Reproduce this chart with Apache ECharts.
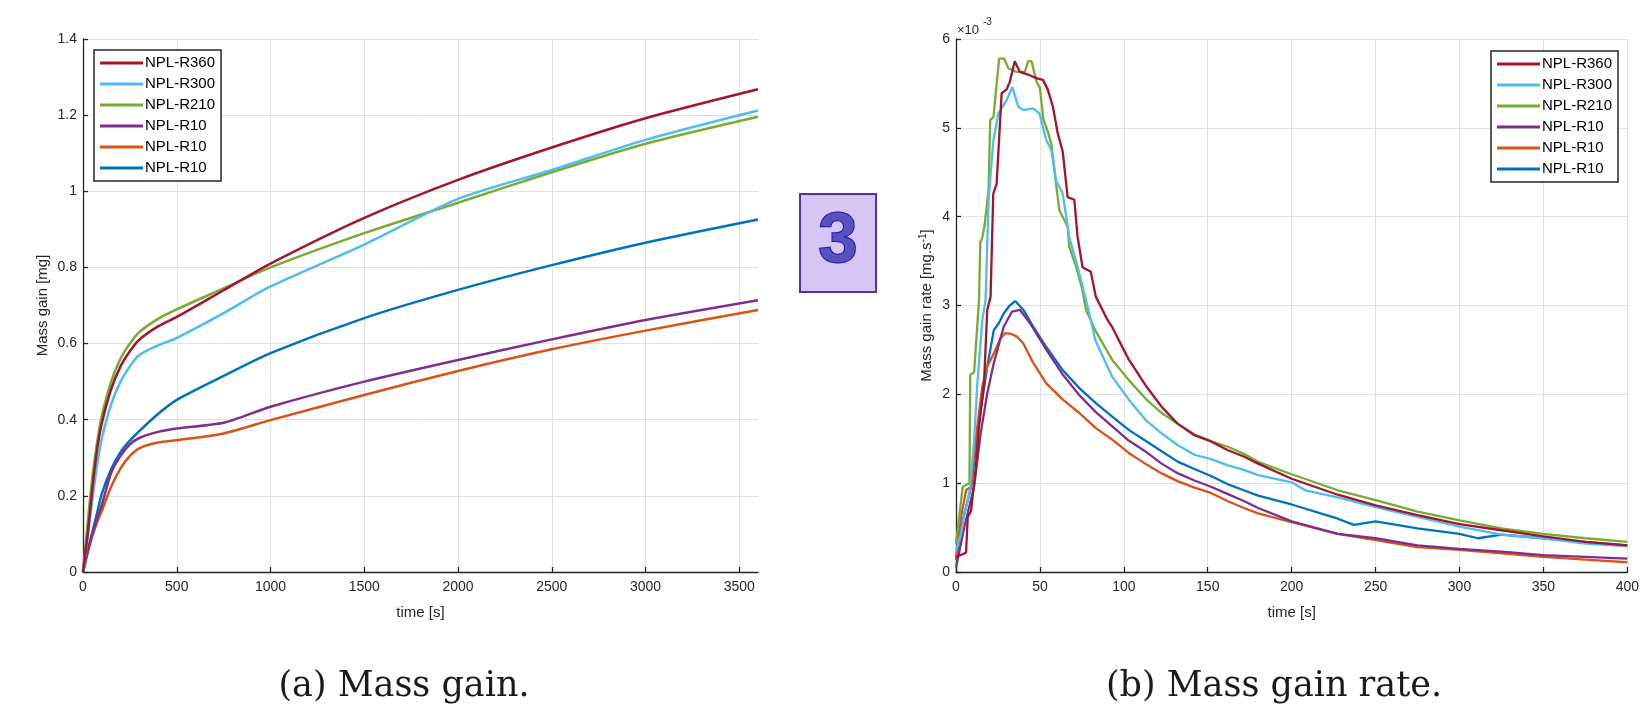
<!DOCTYPE html>
<html>
<head>
<meta charset="utf-8">
<script src="https://cdn.jsdelivr.net/npm/echarts@6/dist/echarts.min.js"></script>
<style>
html,body{margin:0;padding:0;background:#fff;}
#chart{width:1642px;height:708px;}
</style>
</head>
<body>
<div id="chart"></div>
<script>
// ---------- DATA ----------
var seriesNames = ['NPL-R360', 'NPL-R300', 'NPL-R210', 'NPL-R10#1', 'NPL-R10#2', 'NPL-R10#3'];
var legendLabels = ['NPL-R360', 'NPL-R300', 'NPL-R210', 'NPL-R10', 'NPL-R10', 'NPL-R10'];
var seriesColors = ['#A2142F', '#4DBEEE', '#77AC30', '#7E2F8E', '#D95319', '#0072BD'];

// (a) Mass gain [mg] vs time [s]
var gainTime = [0, 25, 50, 75, 100, 150, 200, 250, 300, 400, 500, 750, 1000, 1500, 2000, 2500, 3000, 3600];
var gainR360 = [0, 0.10, 0.22, 0.32, 0.39, 0.48, 0.54, 0.58, 0.61, 0.645, 0.67, 0.74, 0.81, 0.93, 1.03, 1.115, 1.192, 1.268];
var gainR300 = [0, 0.09, 0.19, 0.28, 0.35, 0.44, 0.50, 0.54, 0.57, 0.595, 0.615, 0.68, 0.75, 0.86, 0.98, 1.056, 1.135, 1.212];
var gainR210 = [0, 0.13, 0.25, 0.34, 0.41, 0.50, 0.56, 0.60, 0.63, 0.665, 0.69, 0.745, 0.80, 0.89, 0.97, 1.05, 1.125, 1.196];
var gainR10a = [0, 0.055, 0.10, 0.14, 0.175, 0.26, 0.305, 0.335, 0.352, 0.368, 0.377, 0.392, 0.434, 0.50, 0.557, 0.611, 0.662, 0.714];
var gainR10b = [0, 0.05, 0.095, 0.13, 0.16, 0.224, 0.272, 0.305, 0.325, 0.34, 0.346, 0.364, 0.399, 0.465, 0.528, 0.585, 0.634, 0.688];
var gainR10c = [0, 0.055, 0.105, 0.155, 0.205, 0.27, 0.315, 0.345, 0.37, 0.415, 0.452, 0.515, 0.575, 0.667, 0.741, 0.806, 0.865, 0.926];

// (b) Mass gain rate [1e-3 mg/s] vs time [s]  (pairs [t, rate])
var rateR360 = [[0,0.17],[4,0.2],[6,0.22],[7,0.62],[9,0.69],[11.8,1.18],[13.7,1.64],[16.7,2.12],[18.6,2.95],[20.6,3.1],[22.2,4.26],[24.2,4.37],[27.2,5.39],[30.1,5.43],[32.1,5.52],[35,5.75],[38,5.63],[42.9,5.6],[47.8,5.56],[51.8,5.54],[54.7,5.43],[57.7,5.24],[60.6,4.94],[63.6,4.73],[66.5,4.22],[70.5,4.19],[72.4,3.78],[75.4,3.43],[80.3,3.38],[83.3,3.1],[90.2,2.84],[93,2.76],[97,2.61],[103,2.39],[113,2.1],[122.5,1.86],[132,1.67],[142,1.54],[152,1.47],[162,1.37],[171.5,1.3],[180,1.22],[200,1.05],[227.5,0.87],[250,0.75],[275,0.64],[300,0.54],[325,0.47],[350,0.40],[375,0.34],[400,0.30]];
var rateR300 = [[0,0.24],[3,0.43],[5,0.66],[8,0.88],[10.8,1.48],[12.7,2.12],[15.7,2.84],[17.6,3.06],[19.4,4.19],[22.3,4.86],[25.2,5.16],[30.1,5.31],[33.6,5.46],[37,5.24],[40,5.2],[45.9,5.22],[49.8,5.16],[53.8,4.86],[56.8,4.75],[59.7,4.4],[63.6,4.26],[67.6,3.76],[72.4,3.44],[76.4,3.14],[80.3,2.84],[83,2.61],[93,2.2],[103,1.94],[113,1.71],[122.5,1.56],[132,1.43],[142,1.32],[152,1.27],[162,1.2],[171.5,1.15],[180,1.09],[200,1.01],[208,0.92],[227.5,0.84],[250,0.73],[275,0.62],[300,0.51],[325,0.42],[350,0.38],[375,0.32],[400,0.29]];
var rateR210 = [[0,0.32],[4,0.96],[8,1.0],[8.5,2.22],[10.8,2.25],[13.7,3.06],[14.5,3.72],[15.5,3.75],[17,3.9],[19.4,4.3],[20.4,5.09],[22.3,5.12],[25.7,5.78],[28.7,5.78],[31.2,5.67],[36,5.63],[41,5.63],[43,5.75],[45,5.75],[48,5.52],[50,5.45],[52,5.1],[55,4.94],[57,4.8],[59.6,4.37],[61.6,4.07],[66.5,3.89],[67.5,3.66],[71.5,3.44],[75,3.2],[77.5,2.95],[83,2.72],[93,2.39],[103,2.16],[113,1.95],[122.5,1.79],[132,1.67],[142,1.55],[152,1.47],[162,1.41],[171.5,1.33],[180,1.24],[200,1.1],[227.5,0.92],[250,0.81],[275,0.68],[300,0.58],[325,0.49],[350,0.43],[375,0.38],[400,0.34]];
var rateR10a = [[0,0.05],[5,0.51],[10.8,0.96],[14.7,1.56],[18.6,2.01],[22.5,2.35],[28.4,2.76],[33.3,2.93],[38.2,2.95],[44.1,2.8],[53.9,2.5],[63.7,2.22],[73.5,1.99],[83.3,1.8],[93.1,1.64],[102.9,1.48],[112.7,1.36],[122.5,1.22],[132.3,1.11],[142.1,1.03],[151.9,0.96],[161.7,0.88],[171.5,0.8],[180,0.72],[200,0.57],[227.5,0.43],[250,0.38],[275,0.30],[300,0.26],[325,0.23],[350,0.19],[375,0.17],[400,0.15]];
var rateR10b = [[0,0.13],[3,0.62],[6,0.92],[9,0.96],[12.7,1.64],[15.7,2.09],[18.6,2.31],[22.5,2.46],[26.5,2.63],[29.4,2.69],[33,2.68],[36.3,2.65],[40.2,2.57],[46.1,2.35],[53.9,2.12],[63.7,1.94],[73.5,1.79],[83.3,1.62],[93.1,1.49],[102.9,1.34],[112.7,1.22],[122.5,1.11],[132.3,1.02],[142.1,0.95],[151.9,0.89],[161.7,0.8],[171.5,0.72],[180,0.66],[200,0.56],[227.5,0.43],[250,0.36],[275,0.28],[300,0.25],[325,0.21],[350,0.17],[375,0.14],[400,0.11]];
var rateR10c = [[0,0.15],[4,0.58],[9,0.96],[14.7,1.82],[18.6,2.31],[22.5,2.72],[25.5,2.8],[28.4,2.91],[32,3.0],[35.3,3.05],[40.2,2.95],[46.1,2.76],[53.9,2.53],[63.7,2.27],[73.5,2.07],[83.3,1.9],[93.1,1.75],[102.9,1.6],[112.7,1.48],[122.5,1.36],[132.3,1.24],[142.1,1.16],[151.9,1.08],[161.7,0.99],[171.5,0.92],[180,0.86],[200,0.76],[227.5,0.6],[237,0.53],[250,0.57],[275,0.49],[300,0.43],[311,0.38],[325,0.42],[350,0.38],[375,0.34],[400,0.30]];

// axis ticks
var gainXTicks = { min: 0, max: 3600, interval: 500 };
var gainYTicks = { min: 0, max: 1.4, interval: 0.2 };
var rateXTicks = { min: 0, max: 400, interval: 50 };
var rateYTicks = { min: 0, max: 6, interval: 1 };

// texts
var captionA = '(a) Mass gain.';
var captionB = '(b) Mass gain rate.';
var xName = 'time [s]';
var yNameA = 'Mass gain [mg]';
var yNameB = 'Mass gain rate [mg.s{sup|-1}]';
var badgeText = '3';

// ---------- CHART ----------
var FONT = '"Liberation Sans", Arial, Helvetica, sans-serif';
var AX = '#262626';
var gainData = [gainR360, gainR300, gainR210, gainR10a, gainR10b, gainR10c];
var rateData = [rateR360, rateR300, rateR210, rateR10a, rateR10b, rateR10c];
function plainNum(v) { return String(Math.round(v * 1000) / 1000); }

function xAxisCfg(idx, t) {
  return {
    type: 'value', gridIndex: idx, min: t.min, max: t.max, interval: t.interval,
    name: xName, nameLocation: 'middle', nameGap: 33,
    nameTextStyle: { color: AX, fontSize: 15, fontFamily: FONT },
    axisLine: { show: true, lineStyle: { color: AX, width: 1.3 } },
    axisTick: { show: true, inside: true, length: 5, lineStyle: { color: AX, width: 1.3 } },
    axisLabel: { color: AX, fontSize: 14, fontFamily: FONT, margin: 8, showMaxLabel: idx === 1, formatter: plainNum },
    splitLine: { show: true, showMaxLine: idx === 1, lineStyle: { color: '#e2e2e2', width: 1 } }
  };
}
function yAxisCfg(idx, t, name, gap) {
  return {
    type: 'value', gridIndex: idx, min: t.min, max: t.max, interval: t.interval,
    name: name, nameLocation: 'middle', nameGap: gap,
    nameTextStyle: { color: AX, fontSize: 15, fontFamily: FONT,
      rich: { sup: { fontSize: 10, fontFamily: FONT, color: AX, verticalAlign: 'top', lineHeight: 18 } } },
    axisLine: { show: true, lineStyle: { color: AX, width: 1.3 } },
    axisTick: { show: true, inside: true, length: 5, lineStyle: { color: AX, width: 1.3 } },
    axisLabel: { color: AX, fontSize: 14, fontFamily: FONT, margin: 6, formatter: plainNum },
    splitLine: { show: true, lineStyle: { color: '#e2e2e2', width: 1 } }
  };
}
function legendCfg(left, top) {
  return {
    orient: 'vertical', left: left, top: top,
    data: seriesNames,
    formatter: function (n) { return legendLabels[seriesNames.indexOf(n)]; },
    icon: 'rect', itemWidth: 43, itemHeight: 3, itemGap: 5,
    padding: [5, 6, 5, 6],
    backgroundColor: '#fff', borderColor: AX, borderWidth: 1.5, borderRadius: 0,
    textStyle: { color: '#000', fontSize: 15, fontFamily: FONT, lineHeight: 16, padding: [0, 0, 0, -3] },
    selectedMode: false
  };
}

var series = [];
seriesNames.forEach(function (n, i) {
  series.push({
    type: 'line', name: n, xAxisIndex: 0, yAxisIndex: 0,
    data: gainTime.map(function (t, k) { return [t, gainData[i][k]]; }),
    smooth: 0.25, showSymbol: false,
    lineStyle: { color: seriesColors[i], width: 2.5, join: 'round' }, itemStyle: { color: seriesColors[i] },
    z: 10 - i
  });
});
seriesNames.forEach(function (n, i) {
  series.push({
    type: 'line', name: n, xAxisIndex: 1, yAxisIndex: 1,
    data: rateData[i], showSymbol: false,
    lineStyle: { color: seriesColors[i], width: 2.3 }, itemStyle: { color: seriesColors[i] },
    z: 10 - i
  });
});

var option = {
  animation: false,
  backgroundColor: '#fff',
  grid: [
    { left: 83, top: 39, width: 675, height: 533 },
    { left: 956, top: 39, width: 676, height: 533 }
  ],
  xAxis: [xAxisCfg(0, gainXTicks), xAxisCfg(1, rateXTicks)],
  yAxis: [yAxisCfg(0, gainYTicks, yNameA, 33), yAxisCfg(1, rateYTicks, yNameB, 20)],
  legend: [legendCfg(94, 50), legendCfg(1491, 51)],
  series: series,
  graphic: [
    { type: 'rect', left: 799, top: 193, shape: { width: 76, height: 98 },
      style: { fill: '#d6c6f6', stroke: '#5a2ea6', lineWidth: 2 } },
    { type: 'text', x: 838, y: 243,
      style: { text: badgeText, fontSize: 70, fontWeight: 'bold', fontFamily: FONT,
        fill: '#5b4fc4', stroke: '#1f1a8f', lineWidth: 2, align: 'center', verticalAlign: 'middle' } },
    { type: 'text', x: 957, y: 30,
      style: { text: '×10', fontSize: 13, fontFamily: FONT, fill: AX, align: 'left', verticalAlign: 'middle' } },
    { type: 'text', x: 983, y: 22,
      style: { text: '-3', fontSize: 10, fontFamily: FONT, fill: AX, align: 'left', verticalAlign: 'middle' } },
    { type: 'text', x: 404, y: 687,
      style: { text: captionA, fontSize: 35, fontFamily: '"DejaVu Serif", "Liberation Serif", serif', fill: '#1a1a1a', align: 'center', verticalAlign: 'middle' } },
    { type: 'text', x: 1274, y: 687,
      style: { text: captionB, fontSize: 35, fontFamily: '"DejaVu Serif", "Liberation Serif", serif', fill: '#1a1a1a', align: 'center', verticalAlign: 'middle' } }
  ]
};

var chart = echarts.init(document.getElementById('chart'), null, { renderer: 'canvas' });
chart.setOption(option);
</script>
</body>
</html>
